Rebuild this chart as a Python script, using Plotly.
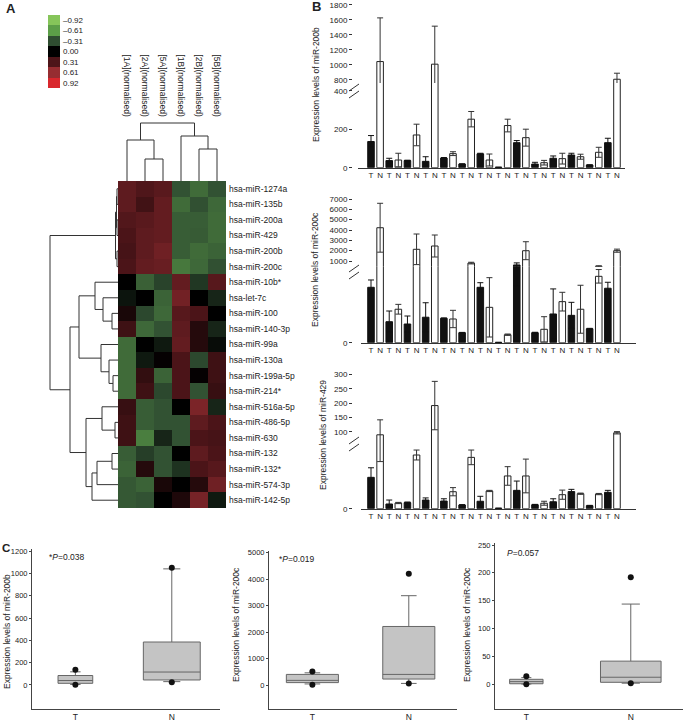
import plotly.graph_objects as go

W, H = 685, 725
FONT = "Liberation Sans, Arial, sans-serif"
TXT = "#222222"

# ---------------- Panel A data ----------------
samples = ["[1A](normalised)", "[2A](normalised)", "[5A](normalised)",
           "[1B](normalised)", "[2B](normalised)", "[5B](normalised)"]
mirnas = ["hsa-miR-1274a", "hsa-miR-135b", "hsa-miR-200a", "hsa-miR-429", "hsa-miR-200b",
          "hsa-miR-200c", "hsa-miR-10b*", "hsa-let-7c", "hsa-miR-100", "hsa-miR-140-3p",
          "hsa-miR-99a", "hsa-miR-130a", "hsa-miR-199a-5p", "hsa-miR-214*", "hsa-miR-516a-5p",
          "hsa-miR-486-5p", "hsa-miR-630", "hsa-miR-132", "hsa-miR-132*", "hsa-miR-574-3p",
          "hsa-miR-142-5p"]
heat = [
    [0.38, 0.32, 0.36, -0.33, -0.42, -0.33],
    [0.38, 0.26, 0.40, -0.42, -0.32, -0.41],
    [0.33, 0.36, 0.40, -0.37, -0.37, -0.42],
    [0.30, 0.38, 0.40, -0.37, -0.36, -0.42],
    [0.28, 0.38, 0.45, -0.37, -0.42, -0.39],
    [0.30, 0.40, 0.42, -0.47, -0.41, -0.32],
    [0.00, -0.38, -0.27, 0.40, -0.22, 0.35],
    [-0.08, 0.00, -0.39, 0.46, 0.00, -0.15],
    [0.10, -0.29, -0.41, 0.35, 0.30, 0.00],
    [0.25, -0.41, -0.33, 0.38, 0.15, -0.15],
    [-0.42, 0.00, -0.10, 0.40, 0.15, -0.05],
    [-0.42, -0.10, 0.02, 0.30, -0.29, 0.25],
    [-0.42, 0.20, -0.39, 0.30, 0.02, 0.25],
    [-0.42, 0.25, -0.29, 0.30, -0.33, 0.22],
    [0.22, -0.37, -0.33, 0.00, 0.50, -0.15],
    [0.25, -0.37, -0.33, -0.33, 0.38, 0.30],
    [0.25, -0.49, -0.15, -0.33, 0.30, 0.28],
    [-0.37, -0.25, -0.33, 0.00, 0.38, 0.30],
    [-0.39, 0.15, -0.33, -0.20, 0.30, 0.35],
    [-0.35, -0.39, 0.10, 0.00, 0.15, 0.45],
    [-0.35, -0.33, 0.00, 0.12, 0.48, -0.10],
]
legend_vals = [-0.92, -0.61, -0.31, 0.00, 0.31, 0.61, 0.92]
legend_labels = ["\u20130.92", "\u20130.61", "\u20130.31", "0.00", "0.31", "0.61", "0.92"]
legend_colors = ["#86c55a", "#5c9e48", "#2f4d31", "#000000", "#4d1519", "#962d31", "#d9272d"]

# linkage (child_a, child_b, height); ids >= n are earlier merges
row_links = [
    (0, 1, 1.0), (2, 3, 1.0), (21, 22, 1.5), (4, 5, 1.0), (23, 24, 2.5),
    (8, 9, 6), (7, 26, 15), (6, 27, 23), (12, 13, 5), (11, 29, 9), (10, 30, 17),
    (28, 31, 39), (15, 16, 3), (14, 33, 16), (17, 18, 6), (35, 19, 21), (36, 20, 26),
    (34, 37, 32), (32, 38, 48), (25, 39, 68),
]
col_links = [(1, 2, 22), (0, 6, 41), (4, 5, 32), (3, 8, 45), (7, 9, 58)]

# ---------------- Panel B data ----------------
tn_labels = ["T", "N"] * 14
mir200b_T = [136, 37, 37, 33, 50, 19, 72, 2, 130, 19, 49, 66, 14, 130]
mir200b_T_sd = [31, 12, 2, 24, 3, 1, 3, 1, 11, 9, 12, 9, 1, 23]
mir200b_N = [1045, 40, 170, 1010, 73, 252, 40, 219, 156, 26, 47, 57, 80, 810]
mir200b_N_sd = [580, 35, 56, 505, 10, 40, 31, 33, 44, 12, 28, 13, 26, 80]

mir200c_T = [409, 155, 138, 188, 180, 74, 409, 2, 620, 74, 212, 202, 103, 402]
mir200c_T_sd = [54, 79, 59, 107, 3, 2, 34, 1, 200, 3, 185, 96, 3, 44]
mir200c_N = [4220, 247, 2133, 2452, 175, 800, 261, 59, 1997, 99, 303, 247, 490, 2000]
mir200c_N_sd = [2365, 36, 1480, 1065, 64, 80, 219, 5, 870, 93, 69, 177, 50, 150]

mir429_T = [25.3, 3.8, 4.9, 7.0, 6.2, 3.0, 6.0, 0.3, 14.8, 3.2, 5.6, 13.8, 2.4, 13.2]
mir429_T_sd = [7.7, 3.2, 0.5, 1.7, 1.8, 0.3, 4.0, 0.2, 7.5, 0.3, 2.4, 1.8, 0.3, 1.6]
mir429_N = [90, 4.6, 43.3, 191.5, 13.7, 41.4, 14.3, 26.4, 26.4, 4.4, 11.3, 12.1, 11.8, 97]
mir429_N_sd = [52, 0.5, 4.0, 84, 3.3, 5.9, 0.5, 7.5, 13.6, 1.6, 3.7, 0.5, 0.5, 4.0]

# ---------------- Panel C data (box statistics) ----------------
groups = ["T", "N"]
c1_stats = {"q1": [15, 45], "median": [40, 116], "q3": [85, 385], "lo": [5, 30], "hi": [118, 1040]}
c1_dots = {"T": [136, 2], "N": [1050, 25]}
c2_stats = {"q1": [90, 225], "median": [175, 400], "q3": [400, 2212], "lo": [40, 60], "hi": [460, 3375]}
c2_dots = {"T": [510, 5], "N": [4200, 60]}
c3_stats = {"q1": [1.0, 3.6], "median": [4.8, 12.7], "q3": [9.0, 41.6], "lo": [0.5, 2.0], "hi": [12, 144]}
c3_dots = {"T": [14.5, 0.0], "N": [192, 2.0]}


# ---------------- helpers ----------------
def xd(a, b):
    return [a / W, b / W]


def yd(top, bottom):
    return [1 - bottom / H, 1 - top / H]


def dendro(n, links):
    pos = {i: float(i) for i in range(n)}
    hgt = {i: 0.0 for i in range(n)}
    hs, ps = [], []
    for k, (a, b, h) in enumerate(links):
        hs += [hgt[a], h, h, hgt[b], None]
        ps += [pos[a], pos[a], pos[b], pos[b], None]
        pos[n + k] = (pos[a] + pos[b]) / 2
        hgt[n + k] = h
    return hs, ps


fig = go.Figure()
layout = dict(template="none", width=W, height=H, margin=dict(l=0, r=0, t=0, b=0, autoexpand=False),
              paper_bgcolor="white", plot_bgcolor="white", showlegend=False,
              font=dict(family=FONT, color=TXT, size=9), barmode="overlay")
annotations = []
shapes = []


def ann(text, px, py, size=8.5, xanchor="center", yanchor="middle", angle=0):
    annotations.append(dict(text=text, x=px / W, y=1 - py / H, xref="paper", yref="paper",
                            showarrow=False, xanchor=xanchor, yanchor=yanchor, textangle=angle,
                            font=dict(family=FONT, size=size, color=TXT)))


hidden = dict(visible=False, showgrid=False, zeroline=False, automargin=False)
base_ax = dict(showgrid=False, zeroline=False, automargin=False)

# ---------------- Panel A ----------------
cs = [[(v + 0.92) / 1.84, c] for v, c in zip(legend_vals, legend_colors)]
fig.add_trace(go.Heatmap(z=heat, x=samples, y=mirnas, colorscale=cs, zmin=-0.92, zmax=0.92,
                         showscale=False, xaxis="x", yaxis="y"))
layout["xaxis"] = dict(domain=xd(118, 226), anchor="y", **hidden)
layout["yaxis"] = dict(domain=yd(181, 508), anchor="x", side="right", range=[20.5, -0.5], type="category",
                       ticks="", ticklabelstandoff=2, tickfont=dict(size=8.5, color=TXT), **base_ax)

fig.add_trace(go.Heatmap(z=[[v] for v in legend_vals], x=[0], y=legend_labels, colorscale=cs,
                         zmin=-0.92, zmax=0.92, showscale=False, xaxis="x2", yaxis="y2"))
layout["xaxis2"] = dict(domain=xd(48, 60), anchor="y2", **hidden)
layout["yaxis2"] = dict(domain=yd(15, 88), anchor="x2", side="right", range=[6.5, -0.5], type="category",
                        ticks="", ticklabelstandoff=2, tickfont=dict(size=8, color=TXT), **base_ax)

hs, ps = dendro(len(mirnas), row_links)
fig.add_trace(go.Scatter(x=hs, y=ps, mode="lines", line=dict(color="#333", width=1),
                         xaxis="x3", yaxis="y3", hoverinfo="skip"))
layout["xaxis3"] = dict(domain=xd(40, 118), anchor="y3", range=[78, 0], **hidden)
layout["yaxis3"] = dict(domain=yd(181, 508), anchor="x3", range=[20.5, -0.5], **hidden)

hs, ps = dendro(len(samples), col_links)
fig.add_trace(go.Scatter(x=ps, y=hs, mode="lines", line=dict(color="#333", width=1),
                         xaxis="x4", yaxis="y4", hoverinfo="skip"))
layout["xaxis4"] = dict(domain=xd(118, 226), anchor="y4", range=[-0.5, 5.5], side="top",
                        tickvals=list(range(len(samples))), ticktext=samples, tickangle=90,
                        ticks="", showline=False, ticklabelstandoff=2,
                        tickfont=dict(size=8.5, color=TXT), **base_ax)
layout["yaxis4"] = dict(domain=yd(121, 181), anchor="x4", range=[0, 60], **hidden)

ann("<b>A</b>", 4, 8, size=13, xanchor="left")

# ---------------- Panel B ----------------
CAT0, STEP = 371.0, 9.11


def xrange_for(a, b):
    return [(a - CAT0) / STEP, (b - CAT0) / STEP]


def broken_chart(il, iu, T, Tsd, N, Nsd, xpx, low_dom, low_rng, low_ticks, up_dom, up_rng, up_ticks, axis_x):
    xT = [2 * i for i in range(len(T))]
    xN = [2 * i + 1 for i in range(len(N))]
    for i, floor in ((il, None), (iu, up_rng[0])):
        Ty = T if floor is None else [v if v > floor else None for v in T]
        Ny = N if floor is None else [v if v > floor else None for v in N]
        fig.add_trace(go.Bar(x=xT, y=Ty, width=0.72, marker=dict(color="#111", line=dict(color="#111", width=1)),
                             error_y=dict(type="data", array=Tsd, symmetric=True, color="#111", thickness=1, width=3),
                             xaxis=f"x{i}", yaxis=f"y{i}"))
        fig.add_trace(go.Bar(x=xN, y=Ny, width=0.72, marker=dict(color="white", line=dict(color="#222", width=1)),
                             error_y=dict(type="data", array=Nsd, symmetric=True, color="#333", thickness=1, width=3),
                             xaxis=f"x{i}", yaxis=f"y{i}"))
    yax = dict(anchor="free", position=axis_x / W, showline=False,
               ticks="outside", ticklen=3, tickcolor="#333", tickfont=dict(size=8, color=TXT), **base_ax)
    layout[f"xaxis{il}"] = dict(domain=xd(*xpx), anchor=f"y{il}", range=xrange_for(*xpx),
                                tickvals=list(range(len(tn_labels))), ticktext=tn_labels, ticks="",
                                showline=True, linecolor="#333", linewidth=1,
                                tickfont=dict(size=8, color=TXT), **base_ax)
    layout[f"yaxis{il}"] = dict(domain=yd(*low_dom), range=low_rng, tickvals=low_ticks, **yax)
    layout[f"xaxis{iu}"] = dict(domain=xd(*xpx), anchor=f"y{iu}", range=xrange_for(*xpx), **hidden)
    layout[f"yaxis{iu}"] = dict(domain=yd(*up_dom), range=up_rng, tickvals=up_ticks, **yax)


broken_chart(5, 6, mir200b_T, mir200b_T_sd, mir200b_N, mir200b_N_sd, (358, 625),
             (83, 167.7), [0, 440], [0, 200, 400], (2, 83), [760, 1836], list(range(800, 1801, 200)), 352)
broken_chart(7, 8, mir200c_T, mir200c_T_sd, mir200c_N, mir200c_N_sd, (361, 636),
             (266.7, 342.7), [0, 561], [0], (196, 266.7), [450, 7290], list(range(1000, 7001, 1000)), 352)
broken_chart(9, 10, mir429_T, mir429_T_sd, mir429_N, mir429_N_sd, (361, 636),
             (440, 508.7), [0, 55.4], [0], (372, 440), [72, 308], list(range(100, 301, 50)), 352)

for y0 in (84, 265, 437):
    for dy in (0, 7):
        shapes.append(dict(type="line", xref="paper", yref="paper",
                           x0=349 / W, x1=359 / W, y0=1 - (y0 + dy + 7) / H, y1=1 - (y0 + dy) / H,
                           line=dict(color="#333", width=1)))

ann("Expression levels of miR-200b", 316, 85, angle=-90)
ann("Expression levels of miR-200c", 315, 270, angle=-90)
ann("Expression levels of miR-429", 323, 435, angle=-90)
ann("<b>B</b>", 310, 7, size=13, xanchor="left")

# ---------------- Panel C ----------------


def box_chart(i, stats, dots, widths, xpx, ydom, yrng, ytick):
    for g, gname in enumerate(groups):
        fig.add_trace(go.Box(x=[gname], q1=[stats["q1"][g]], median=[stats["median"][g]], q3=[stats["q3"][g]],
                             lowerfence=[stats["lo"][g]], upperfence=[stats["hi"][g]], width=widths[g],
                             fillcolor="#c4c4c4", line=dict(color="#666", width=1), whiskerwidth=0.3,
                             boxpoints=False, xaxis=f"x{i}", yaxis=f"y{i}", hoverinfo="skip"))
        fig.add_trace(go.Scatter(x=[gname] * len(dots[gname]), y=dots[gname], mode="markers",
                                 marker=dict(color="#111", size=6), xaxis=f"x{i}", yaxis=f"y{i}"))
    layout[f"xaxis{i}"] = dict(domain=xd(*xpx[:2]), anchor=f"y{i}", type="category", categoryarray=groups,
                               range=xpx[2], showline=True, linecolor="#444", linewidth=1, ticks="",
                               tickfont=dict(size=8.5, color=TXT), **base_ax)
    layout[f"yaxis{i}"] = dict(domain=yd(*ydom), anchor=f"x{i}", range=yrng, tickvals=ytick,
                               showline=True, linecolor="#444", linewidth=1, ticks="outside", ticklen=2,
                               tickcolor="#444", tickfont=dict(size=7.5, color=TXT), **base_ax)


box_chart(11, c1_stats, c1_dots, [0.36, 0.59], (32, 220, [-0.45, 1.5]), (549, 709), [-215, 1218],
          list(range(0, 1201, 200)))
box_chart(12, c2_stats, c2_dots, [0.54, 0.54], (269, 457, [-0.45, 1.5]), (551, 709), [-907, 5064],
          list(range(0, 5001, 1000)))
box_chart(13, c3_stats, c3_dots, [0.32, 0.58], (495, 683, [-0.3, 1.5]), (543, 709), [-44.3, 253.6],
          list(range(0, 251, 50)))

ann("Expression levels of miR-200b", 7, 632, angle=-90)
ann("Expression levels of miR-200c", 236, 625, angle=-90)
ann("Expression levels of miR-200c", 467, 625, angle=-90)
ann("*<i>P</i>=0.038", 47, 557, xanchor="left")
ann("*<i>P</i>=0.019", 277, 559, xanchor="left")
ann("<i>P</i>=0.057", 505, 553, xanchor="left")
ann("<b>C</b>", 0, 548, size=11.5, xanchor="left")

layout["annotations"] = annotations
layout["shapes"] = shapes
fig.update_layout(**layout)
fig.write_html("out.html", config={"displayModeBar": False},
               post_script="document.body.style.margin='0px';document.body.style.overflow='hidden';")
